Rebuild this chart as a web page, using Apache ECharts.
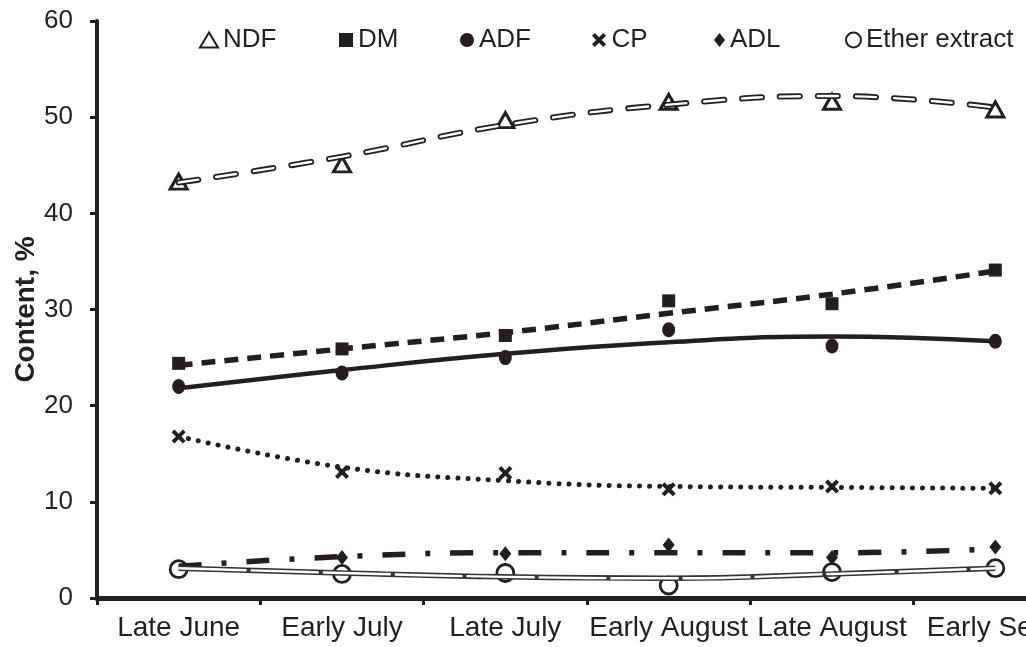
<!DOCTYPE html>
<html>
<head>
<meta charset="utf-8">
<script src="https://cdn.jsdelivr.net/npm/echarts@6/dist/echarts.min.js"></script>
<style>html,body{margin:0;padding:0;background:#fff}#c{width:1026px;height:647px}</style>
</head>
<body>
<div id="c"></div>
<script>
const categories = ['Late June','Early July','Late July','Early August','Late August','Early Sept.'];
const yTicks = [0,10,20,30,40,50,60];
const ndf = [43.3,45.1,49.7,51.6,51.6,50.8];
const ndfTrend = [43.2,45.9,49.2,51.3,52.2,51.0];
const dm = [24.4,25.9,27.3,30.9,30.6,34.1];
const dmTrend = [24.2,25.9,27.6,29.6,31.6,34.0];
const adf = [22.0,23.4,25.0,27.9,26.2,26.7];
const adfTrend = [21.8,23.7,25.4,26.6,27.2,26.7];
const cp = [16.8,13.1,13.0,11.3,11.6,11.4];
const cpTrend = [16.8,13.6,12.2,11.6,11.5,11.4];
const adl = [3.1,4.2,4.6,5.5,4.2,5.3];
const adlTrend = [3.3,4.3,4.7,4.7,4.7,5.1];
const ether = [3.0,2.5,2.6,1.3,2.7,3.1];
const etherTrend = [3.1,2.6,2.2,2.05,2.5,3.1];
const legendNames = ['NDF','DM','ADF','CP','ADL','Ether extract'];

const FONT = '"Liberation Sans", Arial, sans-serif';
const INK = '#231f20';
const X_PATH = 'path://M0,2L2,0L5,3L8,0L10,2L7,5L10,8L8,10L5,7L2,10L0,8L3,5Z';

function pts(name, data, symbol, size, fill, bw) {
  return {
    name: name, type: 'scatter', data: data, symbol: symbol, symbolSize: size, z: 3,
    itemStyle: { color: fill, borderColor: INK, borderWidth: bw, opacity: 1 },
    emphasis: { disabled: true }
  };
}
function trend(data, width, color, type, cap, z) {
  return {
    type: 'line', data: data, smooth: 0.45, symbol: 'none', silent: true, z: z || 4,
    lineStyle: { width: width, color: color, type: type, cap: cap || 'butt' },
    emphasis: { disabled: true }
  };
}

const legendLeft = [199, 339, 460, 592, 714, 845];
const legendIcon = [[18, 15], [14, 14], [14, 15], [15, 14], [11, 14], [15, 15]];
const legends = legendNames.map((n, i) => ({
  data: [n], left: legendLeft[i], top: 27, padding: 0,
  itemWidth: legendIcon[i][0], itemHeight: legendIcon[i][1],
  textStyle: { fontFamily: FONT, fontSize: 26, color: INK },
  selectedMode: false
}));

const option = {
  animation: false,
  backgroundColor: '#fff',
  legend: legends,
  grid: { left: 97, right: -51, top: 21, bottom: 49, containLabel: false, outerBoundsMode: 'none' },
  xAxis: {
    type: 'category', data: categories, boundaryGap: true,
    axisLine: { lineStyle: { color: INK, width: 5 } },
    axisTick: { show: true, length: 7, lineStyle: { color: INK, width: 3 } },
    axisLabel: { fontFamily: FONT, fontSize: 28, color: INK, margin: 16, interval: 0, hideOverlap: false },
    splitLine: { show: false }
  },
  yAxis: {
    type: 'value', min: yTicks[0], max: yTicks[yTicks.length - 1], interval: 10,
    name: 'Content, %', nameLocation: 'middle', nameGap: 57, nameMoveOverlap: false,
    nameTextStyle: { fontFamily: FONT, fontSize: 28, fontWeight: 'bold', color: INK },
    axisLine: { show: true, lineStyle: { color: INK, width: 4 } },
    axisTick: { show: true, length: 7, lineStyle: { color: INK, width: 3 } },
    axisLabel: { fontFamily: FONT, fontSize: 26, color: INK, margin: 24 },
    splitLine: { show: false }
  },
  series: [
    pts('NDF', ndf, 'triangle', [17, 15], '#fff', 3),
    pts('DM', dm, 'rect', 13, INK, 0),
    pts('ADF', adf, 'circle', [13, 15], INK, 0),
    pts('CP', cp, X_PATH, 14, INK, 0),
    pts('ADL', adl, 'diamond', [12, 15], INK, 0),
    pts('Ether extract', ether, 'circle', 17, '#fff', 2.8),
    trend(ndfTrend, 6, INK, [20, 18], 'round', 4),
    trend(ndfTrend, 2.4, '#ffffff', [20, 18], 'round', 5),
    trend(dmTrend, 5.5, INK, [14, 9], 'butt', 4),
    trend(adfTrend, 4.5, INK, 'solid', 'butt', 4),
    trend(cpTrend, 5, INK, [0.1, 10], 'round', 4),
    trend(adlTrend, 5.5, INK, [23, 20, 5, 20], 'butt', 4),
    trend(etherTrend, 5.5, '#333', 'solid', 'butt', 4),
    trend(etherTrend, 2.4, '#ffffff', [68, 4], 'butt', 5)
  ]
};
const chart = echarts.init(document.getElementById('c'), null, { renderer: 'canvas' });
chart.setOption(option);
</script>
</body>
</html>
